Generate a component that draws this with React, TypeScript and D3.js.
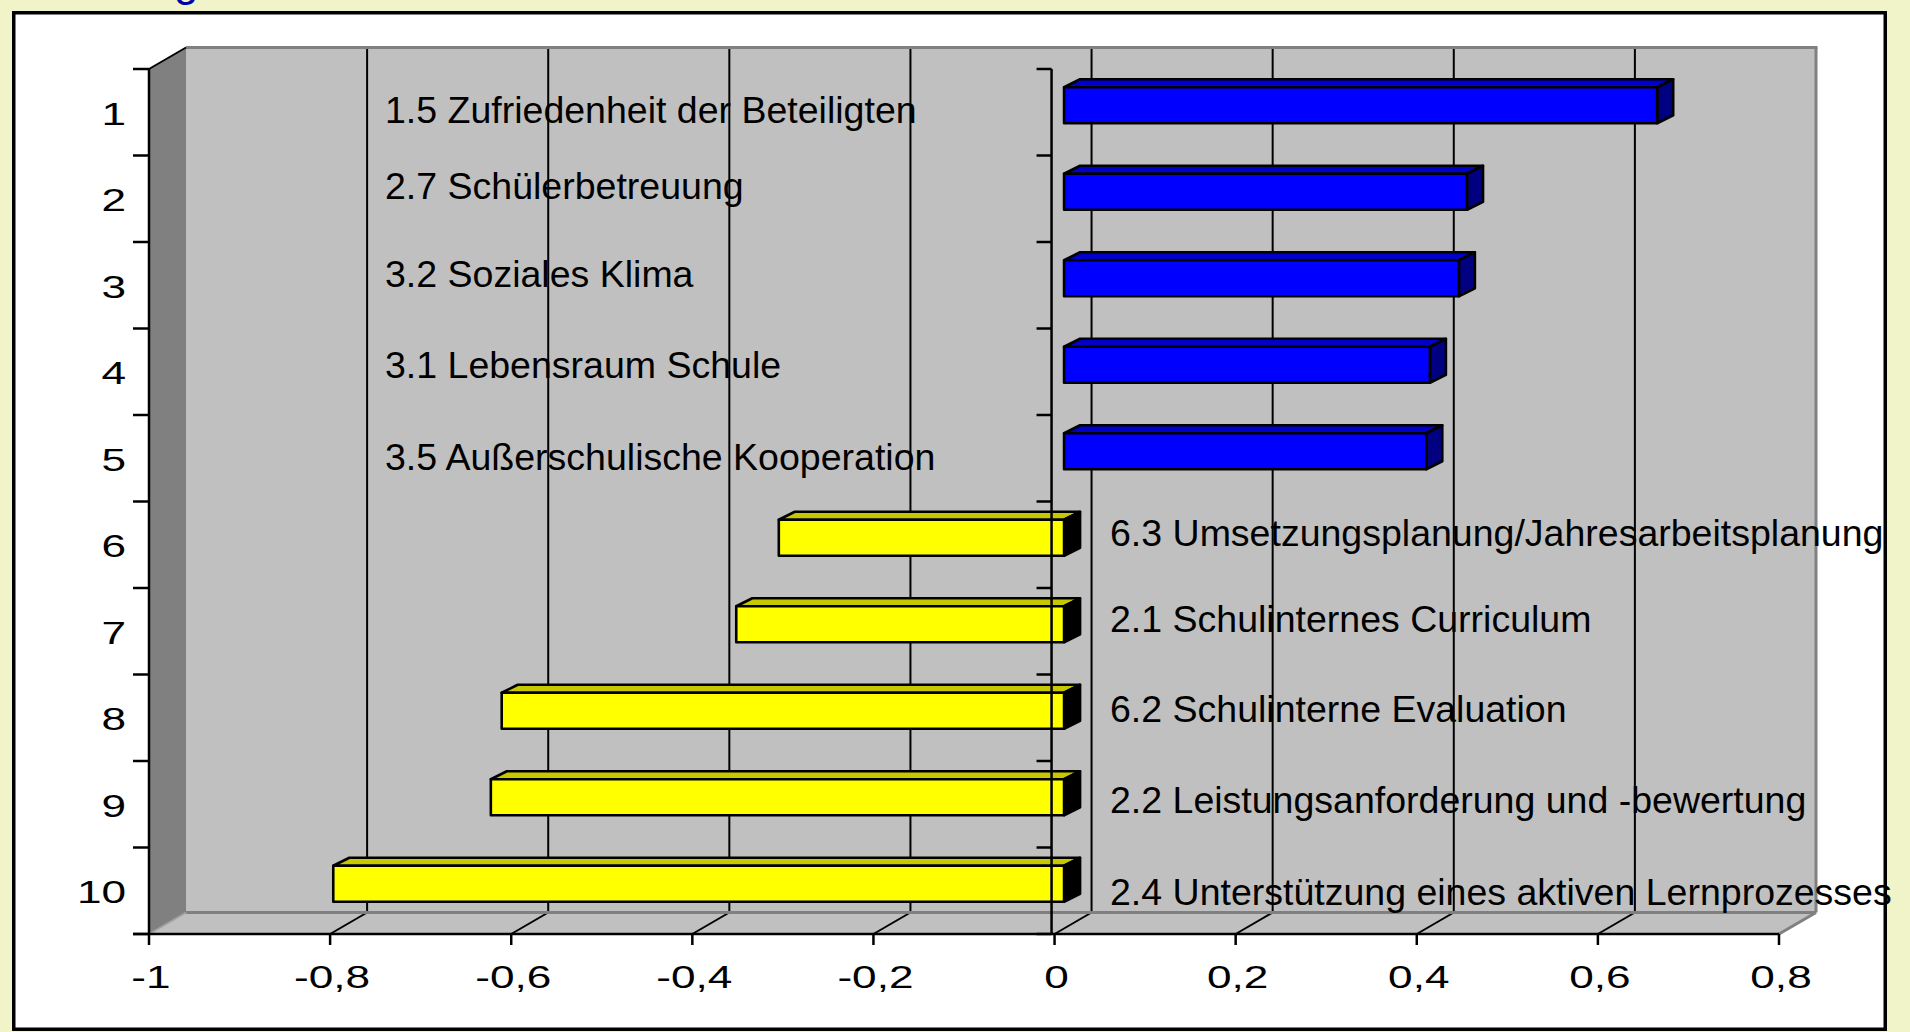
import React from 'react';
import * as d3 from 'd3';

const categories = ['1', '2', '3', '4', '5', '6', '7', '8', '9', '10'];
const labels = [
  '1.5 Zufriedenheit der Beteiligten',
  '2.7 Schülerbetreuung',
  '3.2 Soziales Klima',
  '3.1 Lebensraum Schule',
  '3.5 Außerschulische Kooperation',
  '6.3 Umsetzungsplanung/Jahresarbeitsplanung',
  '2.1 Schulinternes Curriculum',
  '6.2 Schulinterne Evaluation',
  '2.2 Leistungsanforderung und -bewertung',
  '2.4 Unterstützung eines aktiven Lernprozesses',
];
const values = [0.655, 0.445, 0.436, 0.404, 0.4, -0.315, -0.362, -0.621, -0.633, -0.807];
const xTickValues = [-1, -0.8, -0.6, -0.4, -0.2, 0, 0.2, 0.4, 0.6, 0.8];
const xTickLabels = ['-1', '-0,8', '-0,6', '-0,4', '-0,2', '0', '0,2', '0,4', '0,6', '0,8'];

// layout only: vertical nudge of the text boxes relative to the category centre
const labelNudge = [-1.5, -12, -10, -6, 0, -11, -11, -8, -3, 2];

const FONT = '"Liberation Sans", Arial, sans-serif';

export default function App() {
  const W = 1910;
  const H = 1032;
  const x = d3.scaleLinear().domain([-1, 0.8]).range([149, 1779]);
  const y = d3.scaleBand<string>().domain(categories).range([69, 934]).padding(0);
  const DX = 37;
  const DY = -21.5;
  const yTop = 69;
  const yBot = 934;
  const xl = x(-1);
  const xr = x(0.8);
  const bw = y.bandwidth();
  const xZero = x(0) - 3;

  // bar geometry (layout)
  const BOX = 9.5;
  const BOY = -7;
  const BH = 36;
  const BDX = 16;
  const BDY = -8;

  const inner = xTickValues.filter((v) => v > -1 && v < 0.8);
  const boundaries = d3.range(categories.length + 1).map((i) => yTop + i * bw);

  const pts = (a: number[][]) => a.map((p) => p.join(',')).join(' ');

  return (
    <div style={{ position: 'absolute', left: 0, top: 0, width: W, height: H, overflow: 'hidden' }}>
      <svg width={W} height={H} style={{ display: 'block' }}>
        <rect x={0} y={0} width={W} height={H} fill="#f0f4c8" />
        <text x={174} y={-4} fontFamily={FONT} fontSize={44} fill="#0000a8">g</text>
        <rect x={13.75} y={12.75} width={1871.5} height={1016.5} fill="#ffffff" stroke="#000" strokeWidth={3.5} />

        {/* back wall */}
        <rect x={xl + DX} y={yTop + DY} width={xr - xl} height={yBot - yTop} fill="#c0c0c0" />
        {/* floor */}
        <polygon
          points={pts([[xl, yBot], [xl + DX, yBot + DY], [xr + DX, yBot + DY], [xr, yBot]])}
          fill="#c0c0c0"
        />
        {/* back wall gridlines */}
        {inner.map((v) => (
          <line key={'g' + v} x1={x(v) + DX} x2={x(v) + DX} y1={yTop + DY} y2={yBot + DY} stroke="#000" strokeWidth={2} />
        ))}
        {/* floor gridlines */}
        {inner.map((v) => (
          <line key={'f' + v} x1={x(v)} y1={yBot} x2={x(v) + DX} y2={yBot + DY} stroke="#000" strokeWidth={2} />
        ))}
        {/* back wall edges */}
        <line x1={xl + DX} x2={xr + DX + 1.5} y1={yTop + DY} y2={yTop + DY} stroke="#808080" strokeWidth={3} />
        <line x1={xr + DX} x2={xr + DX} y1={yTop + DY} y2={yBot + DY} stroke="#808080" strokeWidth={3} />
        <line x1={xl + DX} x2={xr + DX} y1={yBot + DY} y2={yBot + DY} stroke="#808080" strokeWidth={3} />
        <line x1={xr} y1={yBot} x2={xr + DX} y2={yBot + DY} stroke="#808080" strokeWidth={3} />
        {/* left wall */}
        <polygon
          points={pts([[xl, yTop], [xl + DX, yTop + DY], [xl + DX, yBot + DY], [xl, yBot]])}
          fill="#808080"
        />
        <line x1={xl} y1={yBot} x2={xl + DX} y2={yBot + DY} stroke="#a0a0a0" strokeWidth={2} />
        <line x1={xl} y1={yTop} x2={xl + DX} y2={yTop + DY} stroke="#000" strokeWidth={2} />

        {/* category labels */}
        {labels.map((t, i) => (
          <text
            key={'l' + i}
            x={values[i] > 0 ? 385 : 1110}
            y={(y(categories[i]) as number) + bw / 2 + 12 + labelNudge[i]}
            fontFamily={FONT}
            fontSize={37.5}
            fill="#000"
          >
            {t}
          </text>
        ))}

        {/* bars */}
        {values.map((v, i) => {
          const a = x(0) + BOX;
          const b = x(v) + BOX;
          const l = Math.min(a, b);
          const r = Math.max(a, b);
          const yc = (y(categories[i]) as number) + bw / 2 + BOY;
          const t = yc - BH / 2;
          const bt = yc + BH / 2;
          const pos = v > 0;
          const front = pos ? '#0000ff' : '#ffff00';
          const top = pos ? '#0000c8' : '#c8c800';
          const side = pos ? '#000080' : '#000000';
          return (
            <g key={'b' + i} stroke="#000" strokeWidth={2.6} strokeLinejoin="round">
              <polygon points={pts([[l, t], [l + BDX, t + BDY], [r + BDX, t + BDY], [r, t]])} fill={top} />
              <polygon points={pts([[r, t], [r + BDX, t + BDY], [r + BDX, bt + BDY], [r, bt]])} fill={side} />
              <rect x={l} y={t} width={r - l} height={BH} fill={front} />
            </g>
          );
        })}

        {/* left category axis */}
        <line x1={xl} x2={xl} y1={yTop} y2={yBot} stroke="#000" strokeWidth={2.5} />
        {boundaries.map((b, i) => (
          <line key={'lt' + i} x1={xl - 16} x2={xl} y1={b} y2={b} stroke="#000" strokeWidth={2.5} />
        ))}
        {/* zero axis */}
        <line x1={xZero} x2={xZero} y1={yTop} y2={yBot} stroke="#000" strokeWidth={2.5} />
        {boundaries.map((b, i) => (
          <line key={'zt' + i} x1={xZero - 15} x2={xZero} y1={b} y2={b} stroke="#000" strokeWidth={2.5} />
        ))}
        {/* front x axis */}
        <line x1={xl - 16} x2={xr} y1={yBot} y2={yBot} stroke="#000" strokeWidth={2.5} />
        {xTickValues.map((v) => (
          <line key={'xt' + v} x1={x(v)} x2={x(v)} y1={yBot} y2={yBot + 11} stroke="#000" strokeWidth={2.5} />
        ))}
        {xTickValues.map((v, i) => (
          <g key={'xl' + v} transform={`translate(${x(v) + 2},988) scale(1.38,1)`}>
            <text x={0} y={0} textAnchor="middle" fontFamily={FONT} fontSize={32} fill="#000">
              {xTickLabels[i]}
            </text>
          </g>
        ))}
        {categories.map((c) => (
          <g key={'cl' + c} transform={`translate(126,${(y(c) as number) + bw / 2 + 12.5}) scale(1.38,1)`}>
            <text x={0} y={0} textAnchor="end" fontFamily={FONT} fontSize={32} fill="#000">
              {c}
            </text>
          </g>
        ))}
      </svg>
    </div>
  );
}
